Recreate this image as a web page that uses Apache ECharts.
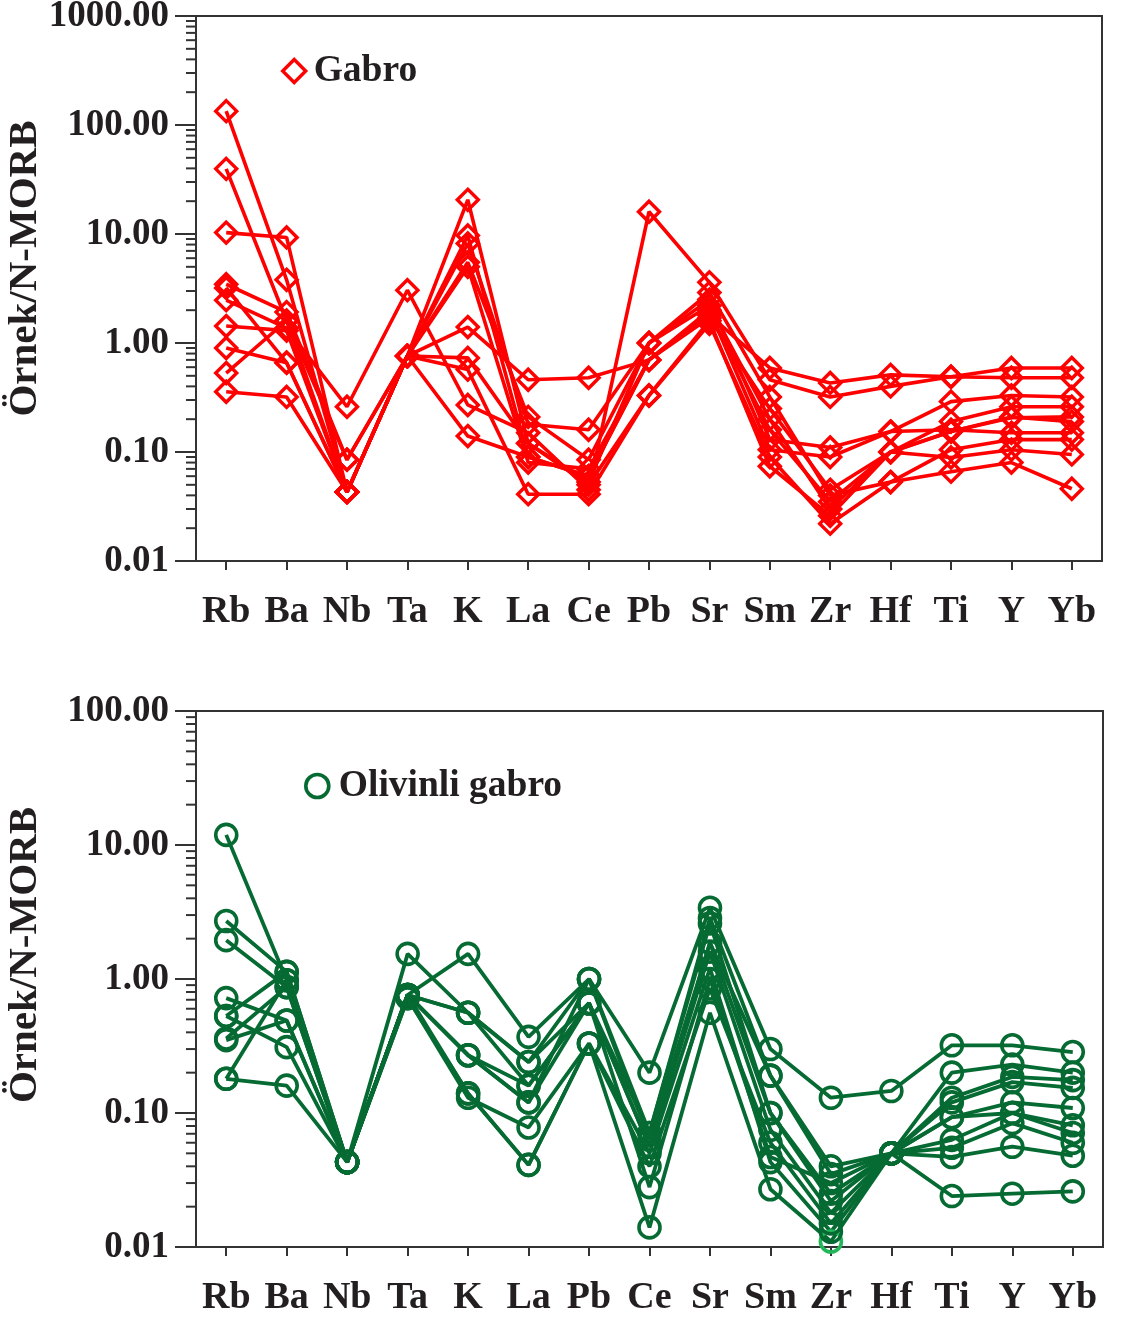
<!DOCTYPE html>
<html><head><meta charset="utf-8">
<script src="https://cdn.jsdelivr.net/npm/echarts@6/dist/echarts.min.js"></script>
<style>html,body{margin:0;padding:0;background:#fff}#c{width:1124px;height:1317px}</style>
</head><body><div id="c"></div>
<script>
// ---------- DATA ----------
const elementsTop = ['Rb','Ba','Nb','Ta','K','La','Ce','Pb','Sr','Sm','Zr','Hf','Ti','Y','Yb'];
const elementsBottom = ['Rb','Ba','Nb','Ta','K','La','Pb','Ce','Sr','Sm','Zr','Hf','Ti','Y','Yb'];
const decadesTop = [0.01, 0.1, 1, 10, 100];      // minor ticks 2..9 x decade
const decadesBottom = [0.01, 0.1, 1, 10];
const minorMultipliers = [2,3,4,5,6,7,8,9];

// Gabro (N-MORB normalised)
const gabro1  = [134, 3.8, 0.043, 0.76, 20.6, 0.12, 0.053, 1.0, 2.2, 0.20, 0.030, 0.10, 0.154, 0.21, 0.19];
const gabro2  = [39.6, 1.6, 0.043, 0.76, 9.7, 0.09, 0.060, 0.70, 1.9, 0.16, 0.035, 0.10, 0.19, 0.26, 0.26];
const gabro3  = [10.3, 9.3, 0.043, 0.76, 5.5, 0.21, 0.085, 1.0, 2.9, 0.32, 0.040, 0.053, 0.105, 0.13, 0.13];
const gabro4  = [3.46, 1.92, 0.085, 0.76, 1.40, 0.46, 0.48, 0.70, 1.8, 0.59, 0.43, 0.51, 0.49, 0.59, 0.59];
const gabro5  = [2.47, 1.37, 0.26, 3.05, 0.27, 0.15, 0.045, 16, 3.6, 0.46, 0.32, 0.40, 0.49, 0.48, 0.48];
const gabro6  = [1.43, 1.30, 0.043, 0.76, 8.2, 0.18, 0.16, 1.0, 2.5, 0.13, 0.11, 0.154, 0.29, 0.33, 0.32];
const gabro7  = [0.90, 0.66, 0.043, 0.76, 5.0, 0.08, 0.07, 0.70, 2.0, 0.105, 0.09, 0.154, 0.16, 0.15, 0.15];
const gabro8  = [0.53, 1.60, 0.085, 0.76, 0.73, 0.12, 0.05, 0.33, 1.6, 0.074, 0.026, 0.10, 0.089, 0.105, 0.095];
const gabro9  = [0.357, 0.32, 0.043, 0.76, 0.57, 0.041, 0.041, 0.33, 1.5, 0.09, 0.022, 0.053, 0.066, 0.08, 0.046];
const gabro10 = [3.2, 0.66, 0.043, 0.76, 0.14, 0.09, 0.06, 0.70, 1.7, 0.25, 0.045, 0.10, 0.154, 0.206, 0.21];

// Olivinli gabro
const olgab1  = [11.9, 0.98, 0.043, 0.76, 0.56, 0.16, 0.66, 0.056, 1.86, 0.10, 0.025, 0.05, 0.13, 0.186, 0.176];
const olgab2  = [2.71, 1.13, 0.043, 0.76, 0.27, 0.12, 1.0, 0.071, 2.85, 0.19, 0.040, 0.05, 0.20, 0.23, 0.20];
const olgab3  = [1.95, 0.87, 0.043, 0.76, 1.54, 0.37, 1.0, 0.20, 3.4, 0.30, 0.13, 0.146, 0.32, 0.32, 0.285];
const olgab4  = [0.72, 0.49, 0.043, 1.54, 0.56, 0.24, 0.66, 0.028, 1.0, 0.047, 0.030, 0.05, 0.093, 0.12, 0.109];
const olgab5  = [0.53, 0.31, 0.043, 0.72, 0.14, 0.041, 0.33, 0.014, 0.56, 0.027, 0.011, 0.05, 0.024, 0.025, 0.026];
const olgab6  = [0.36, 0.87, 0.043, 0.76, 0.27, 0.12, 0.66, 0.056, 1.6, 0.075, 0.018, 0.05, 0.12, 0.17, 0.154];
const olgab7  = [0.35, 0.49, 0.043, 0.72, 0.13, 0.078, 0.33, 0.040, 0.85, 0.06, 0.015, 0.05, 0.055, 0.084, 0.06];
const olgab8  = [0.18, 0.16, 0.043, 0.76, 0.27, 0.16, 0.66, 0.071, 2.6, 0.10, 0.022, 0.05, 0.063, 0.10, 0.071];
const olgab9  = [0.18, 0.98, 0.043, 0.76, 0.14, 0.041, 0.33, 0.050, 1.2, 0.043, 0.013, 0.05, 0.047, 0.056, 0.048];
const olgab10 = [0.53, 1.13, 0.043, 0.76, 0.56, 0.24, 1.0, 0.063, 1.86, 0.19, 0.035, 0.05, 0.093, 0.10, 0.081];

const gabroSets = [gabro1,gabro2,gabro3,gabro4,gabro5,gabro6,gabro7,gabro8,gabro9,gabro10];
const olgabSets = [olgab1,olgab2,olgab3,olgab4,olgab5,olgab6,olgab7,olgab8,olgab9,olgab10];

// ---------- STYLE ----------
const RED = '#ff0000';
const GREEN = '#066a33';
const LIGHTGREEN = '#22b85a';
const INK = '#231f20';
const AX = '#333333';
const FONT = '"Liberation Serif", "Times New Roman", serif';

function minorValues(decades){
  const out = [];
  decades.forEach(d => minorMultipliers.forEach(m => out.push([0, +(m*d).toPrecision(3)])));
  return out;
}
function minorTick(params, api){
  const p = api.coord([0, api.value(1)]);
  const x0 = params.coordSys.x;
  return {type:'line', silent:true, shape:{x1:x0-10, y1:p[1], x2:x0, y2:p[1]}, style:{stroke:AX, lineWidth:2}};
}

function yAxisCfg(gridIndex, max, pad){
  return {
    gridIndex, type:'log', logBase:10, min:0.01, max:max,
    name:'Örnek/N-MORB', nameLocation:'middle', nameGap:150, nameRotate:90, nameMoveOverlap:false,
    nameTextStyle:{fontFamily:FONT, fontWeight:'bold', fontSize:41, color:INK, padding:[0,0,0,pad]},
    axisLine:{show:true, lineStyle:{color:AX, width:2}},
    axisTick:{show:true, length:21, lineStyle:{color:AX, width:2}},
    axisLabel:{fontFamily:FONT, fontWeight:'bold', fontSize:37, color:INK, margin:27,
      formatter: v => Number(v).toFixed(2)},
    splitLine:{show:false}
  };
}
function xAxisCfg(gridIndex, cats){
  return {
    gridIndex, type:'category', data:cats, boundaryGap:true,
    axisLine:{show:true, lineStyle:{color:AX, width:2}},
    axisTick:{show:true, alignWithLabel:true, length:9, lineStyle:{color:AX, width:2}},
    axisLabel:{fontFamily:FONT, fontWeight:'bold', fontSize:38, color:INK, margin:32, interval:0},
    splitLine:{show:false}
  };
}

const series = [];
gabroSets.forEach(arr => series.push({
  name:'Gabro', type:'line', xAxisIndex:0, yAxisIndex:0, data:arr,
  symbol:'diamond', symbolSize:21, z:3,
  itemStyle:{color:'rgba(255,255,255,0)', borderColor:RED, borderWidth:3.4},
  lineStyle:{color:RED, width:3.6}, emphasis:{disabled:true}, animation:false
}));
olgabSets.forEach((arr, si) => series.push({
  name:'Olivinli gabro', type:'line', xAxisIndex:1, yAxisIndex:1,
  data: arr.map((v, i) => (si === 4 && elementsBottom[i] === 'Zr')
      ? {value:v, itemStyle:{borderColor:LIGHTGREEN}} : v),
  symbol:'circle', symbolSize:21, z:3,
  itemStyle:{color:'rgba(255,255,255,0)', borderColor:GREEN, borderWidth:3.6},
  lineStyle:{color:GREEN, width:3.8}, emphasis:{disabled:true}, animation:false
}));
series.push({type:'custom', xAxisIndex:0, yAxisIndex:0, silent:true, clip:false, renderItem:minorTick, data:minorValues(decadesTop), z:10, animation:false});
series.push({type:'custom', xAxisIndex:1, yAxisIndex:1, silent:true, clip:false, renderItem:minorTick, data:minorValues(decadesBottom), z:10, animation:false});

const legendText = {fontFamily:FONT, fontWeight:'bold', fontSize:37.5, color:INK, lineHeight:40, padding:[0,0,0,3]};

const option = {
  backgroundColor:'#fff',
  animation:false,
  grid:[
    {left:196, top:16, width:906, height:545, show:true, borderColor:AX, borderWidth:2, backgroundColor:'transparent', containLabel:false, outerBoundsMode:'none'},
    {left:196, top:711, width:907, height:536, show:true, borderColor:AX, borderWidth:2, backgroundColor:'transparent', containLabel:false, outerBoundsMode:'none'}
  ],
  xAxis:[xAxisCfg(0, elementsTop), xAxisCfg(1, elementsBottom)],
  yAxis:[yAxisCfg(0, 1000, 40), yAxisCfg(1, 100, 48)],
  legend:[
    {data:['Gabro'], left:281, top:51, padding:0, icon:'diamond', itemWidth:23, itemHeight:23, selectedMode:false,
     itemStyle:{color:'rgba(255,255,255,0)', borderColor:RED, borderWidth:3.4}, textStyle:legendText},
    {data:['Olivinli gabro'], left:304, top:766, padding:0, icon:'circle', itemWidth:23, itemHeight:23, selectedMode:false,
     itemStyle:{color:'rgba(255,255,255,0)', borderColor:GREEN, borderWidth:3.6}, textStyle:Object.assign({}, legendText, {padding:[0,0,0,5]})}
  ],
  series
};
const chart = echarts.init(document.getElementById('c'), null, {renderer:'canvas'});
chart.setOption(option);
</script></body></html>
